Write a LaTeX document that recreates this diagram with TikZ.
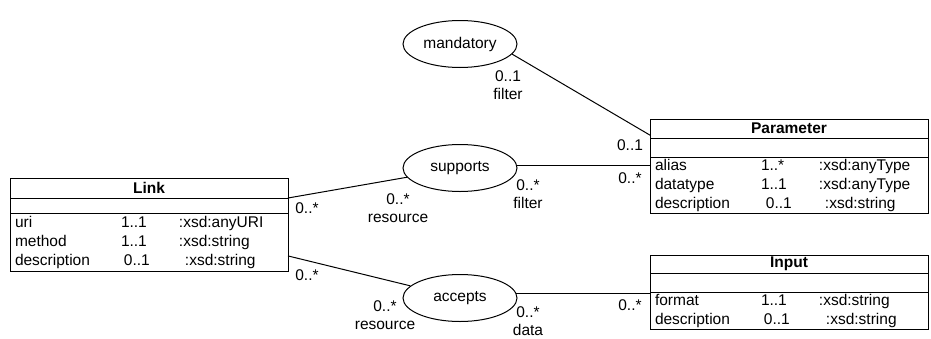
\documentclass[tikz,border=0pt]{standalone}
\usepackage{fontspec}
\setmainfont{Liberation Sans}
\usetikzlibrary{positioning,calc,shapes.geometric}
\newcommand{\attr}[3]{\makebox[106pt][l]{#1}\makebox[58pt][l]{#2}#3}

\begin{document}
\begin{tikzpicture}[
   x=1pt,y=-1pt,
   font=\fontsize{15.5}{19}\selectfont,
   classhead/.style={draw,line width=1pt,minimum width=278pt,minimum height=#1,
                     inner sep=0pt,outer sep=0pt,font=\fontsize{15.5}{19}\selectfont\bfseries},
   classops/.style={draw,line width=1pt,minimum width=278pt,minimum height=#1,
                    inner sep=0pt,outer sep=0pt},
   classattr/.style={draw,line width=1pt,text width=268pt,inner xsep=5pt,inner ysep=0pt,
                     outer sep=0pt,align=left,minimum height=#1},
   assoc/.style={draw,ellipse,line width=1pt,minimum width=114pt,minimum height=47pt,inner sep=0pt},
   role/.style={align=center,inner sep=0pt,font=\fontsize{15.5}{18}\selectfont},
   assocline/.style={line width=1pt}]
  \useasboundingbox (0,0) rectangle (931,338);

  % classes
  \node[classhead=20pt,anchor=north west] (link-head) at (10,178) {Link};
  \node[classops=15pt,below=0pt of link-head] (link-ops) {};
  \node[classattr=58pt,below=0pt of link-ops] (link-attrs)
       {\attr{uri}{1..1}{:xsd:anyURI}\\
        \attr{method}{1..1}{:xsd:string}\\
        \attr{description}{\hspace{3pt}0..1}{\hspace{6pt}:xsd:string}};

  \node[classhead=19pt,anchor=north west] (param-head) at (650,119) {Parameter};
  \node[classops=19pt,below=0pt of param-head] (param-ops) {};
  \node[classattr=56pt,below=0pt of param-ops] (param-attrs)
       {\attr{alias}{1..*}{:xsd:anyType}\\
        \attr{datatype}{1..1}{:xsd:anyType}\\
        \attr{description}{\hspace{5pt}0..1}{\hspace{6pt}:xsd:string}};

  \node[classhead=18pt,anchor=north west] (input-head) at (650,255) {Input};
  \node[classops=19pt,below=0pt of input-head] (input-ops) {};
  \node[classattr=37pt,below=0pt of input-ops] (input-attrs)
       {\attr{format}{1..1}{:xsd:string}\\
        \attr{description}{\hspace{3pt}0..1}{\hspace{7pt}:xsd:string}};

  % associations
  \node[assoc] (mandatory) at (460,44) {mandatory};
  \node[assoc] (supports) at (460,168) {supports};
  \node[assoc] (accepts) at (460,298) {accepts};

  \draw[assocline] (mandatory.-11) -- ($(param-head.north west)!0.85!(param-head.south west)$);
  \draw[assocline] (link-ops.north east) -- (supports);
  \draw[assocline] (supports.3) -- (supports.3 -| param-attrs.west);
  \draw[assocline] ($(link-attrs.north east)!0.74!(link-attrs.south east)$) -- (accepts);
  \draw[assocline] (accepts.5) -- (accepts.5 -| input-attrs.west);

  % role ends
  \node[role] (mand-filter) at (508,85) {0..1\\filter};
  \node[role] (param-mand) at (630,145) {0..1};
  \node[role] (sup-filter) at (528,194) {0..*\\filter};
  \node[role] (param-sup) at (630,178) {0..*};
  \node[role] (sup-res) at (398,208) {0..*\\resource};
  \node[role] (link-sup) at (307,208) {0..*};
  \node[role] (link-acc) at (307,275) {0..*};
  \node[role] (acc-res) at (385,315) {0..*\\resource};
  \node[role] (acc-data) at (528,321) {0..*\\data};
  \node[role] (input-acc) at (630,305) {0..*};
\end{tikzpicture}
\end{document}
